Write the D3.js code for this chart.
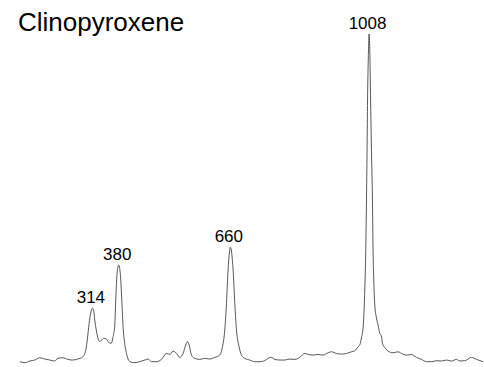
<!DOCTYPE html>
<html>
<head>
<meta charset="utf-8">
<script src="https://cdn.jsdelivr.net/npm/d3@7"></script>
<style>
  html, body { margin: 0; padding: 0; background: #fff; }
  svg { display: block; }
</style>
</head>
<body>
<svg id="chart" width="484" height="367"></svg>
<script>
// Raman spectrum of clinopyroxene (Raman shift in cm-1, intensity in arbitrary units)
const wavenumber = [
  132, 144.5, 157, 169.6, 182.1, 194.7, 207.2, 219.7, 227.3, 239.8, 252.3, 264.9, 277.4, 290,
  297.5, 301.3, 305.8, 310, 314, 317.5, 320, 323.8, 327.6, 332.6, 337.6, 342.6, 348.9, 355.2,
  361.4, 366, 370.2, 372.7, 376, 380, 384, 387.8, 391, 394, 399.6, 403.6, 407.8, 420.4, 432.9,
  445.5, 453.7, 462.3, 474.8, 487.3, 499.9, 508.2, 516.5, 525, 533.2, 541.5, 548.3, 552.6,
  556.6, 562.6, 570.9, 583.4, 596, 608.5, 621, 633.6, 640.3, 646.1, 650.4, 654.4, 657.9, 660,
  663.2, 667, 671.2, 675.5, 682, 688, 696.3, 708.8, 721.3, 733.9, 746.4, 754.7, 763.2, 771.5,
  784, 796.6, 809.1, 821.7, 834.2, 846.7, 855, 867.6, 880.1, 892.7, 905.2, 913.7, 926.2, 938.8,
  951.3, 963.9, 972.1, 980.4, 984.7, 989, 993.5, 995.5, 997.2, 999.7, 1001.5, 1003, 1004.2,
  1006, 1008, 1009.8, 1011.8, 1014, 1016.5, 1018, 1019.8, 1022.3, 1026.6, 1030.6, 1034.8, 1039,
  1041.6, 1047.4, 1055.7, 1068.2, 1080.7, 1089.3, 1101.8, 1114.3, 1126.9, 1139.4, 1152, 1164.5,
  1177.1, 1189.6, 1202.1, 1214.7, 1227.2, 1235.5, 1248, 1264.8, 1277.4, 1294
];
const intensity = [
  7, 4, 9, 12, 19, 15, 12, 9, 17, 19, 14, 12, 15, 22,
  42, 73, 123, 155, 169, 161, 133, 103, 80, 68, 73, 78, 76, 65,
  63, 83, 118, 194, 275, 300, 275, 194, 113, 73, 32, 15, 7, 4, 7,
  12, 15, 7, 7, 14, 32, 29, 39, 32, 20, 32, 58, 68,
  58, 27, 17, 14, 17, 15, 20, 27, 52, 103, 184, 285, 339, 354,
  339, 285, 184, 103, 52, 27, 17, 12, 7, 7, 10, 17, 20, 14,
  12, 12, 15, 14, 20, 32, 29, 27, 29, 27, 34, 37, 32, 30,
  32, 37, 40, 52, 58, 79, 118, 164, 224, 345, 497, 648, 800,
  921, 1000, 952, 800, 648, 497, 345, 255, 179, 139, 118, 93, 85,
  62, 50, 39, 34, 37, 32, 27, 29, 20, 14, 7, 7,
  10, 9, 12, 9, 14, 9, 10, 20, 14, 7
];
const peakLabels = [314, 380, 660, 1008];
const title = "Clinopyroxene";

const svg = d3.select("#chart");

const x = d3.scaleLinear().domain([130, 1295]).range([19, 483.5]);
const y = d3.scaleLinear().domain([0, 1000]).range([364, 34]);

const points = wavenumber.map((w, i) => [w, intensity[i]]);

const line = d3.line()
  .x(d => x(d[0]))
  .y(d => y(d[1]))
  .curve(d3.curveMonotoneX);

svg.append("path")
  .datum(points)
  .attr("fill", "none")
  .attr("stroke", "#3a3a3a")
  .attr("stroke-width", 0.85)
  .attr("stroke-linejoin", "round")
  .attr("d", line);

// peak labels sit just above the apex of each band
svg.selectAll("text.peak")
  .data(peakLabels)
  .join("text")
  .attr("class", "peak")
  .attr("x", d => x(d) - 1.5)
  .attr("y", d => y(intensity[wavenumber.indexOf(d)]) - 5)
  .attr("text-anchor", "middle")
  .attr("font-family", "Liberation Sans, Arial, sans-serif")
  .attr("font-size", 17)
  .attr("fill", "#000")
  .text(d => d);

svg.append("text")
  .attr("x", 18)
  .attr("y", 31)
  .attr("font-family", "Liberation Sans, Arial, sans-serif")
  .attr("font-size", 26)
  .attr("fill", "#000")
  .text(title);
</script>
</body>
</html>
